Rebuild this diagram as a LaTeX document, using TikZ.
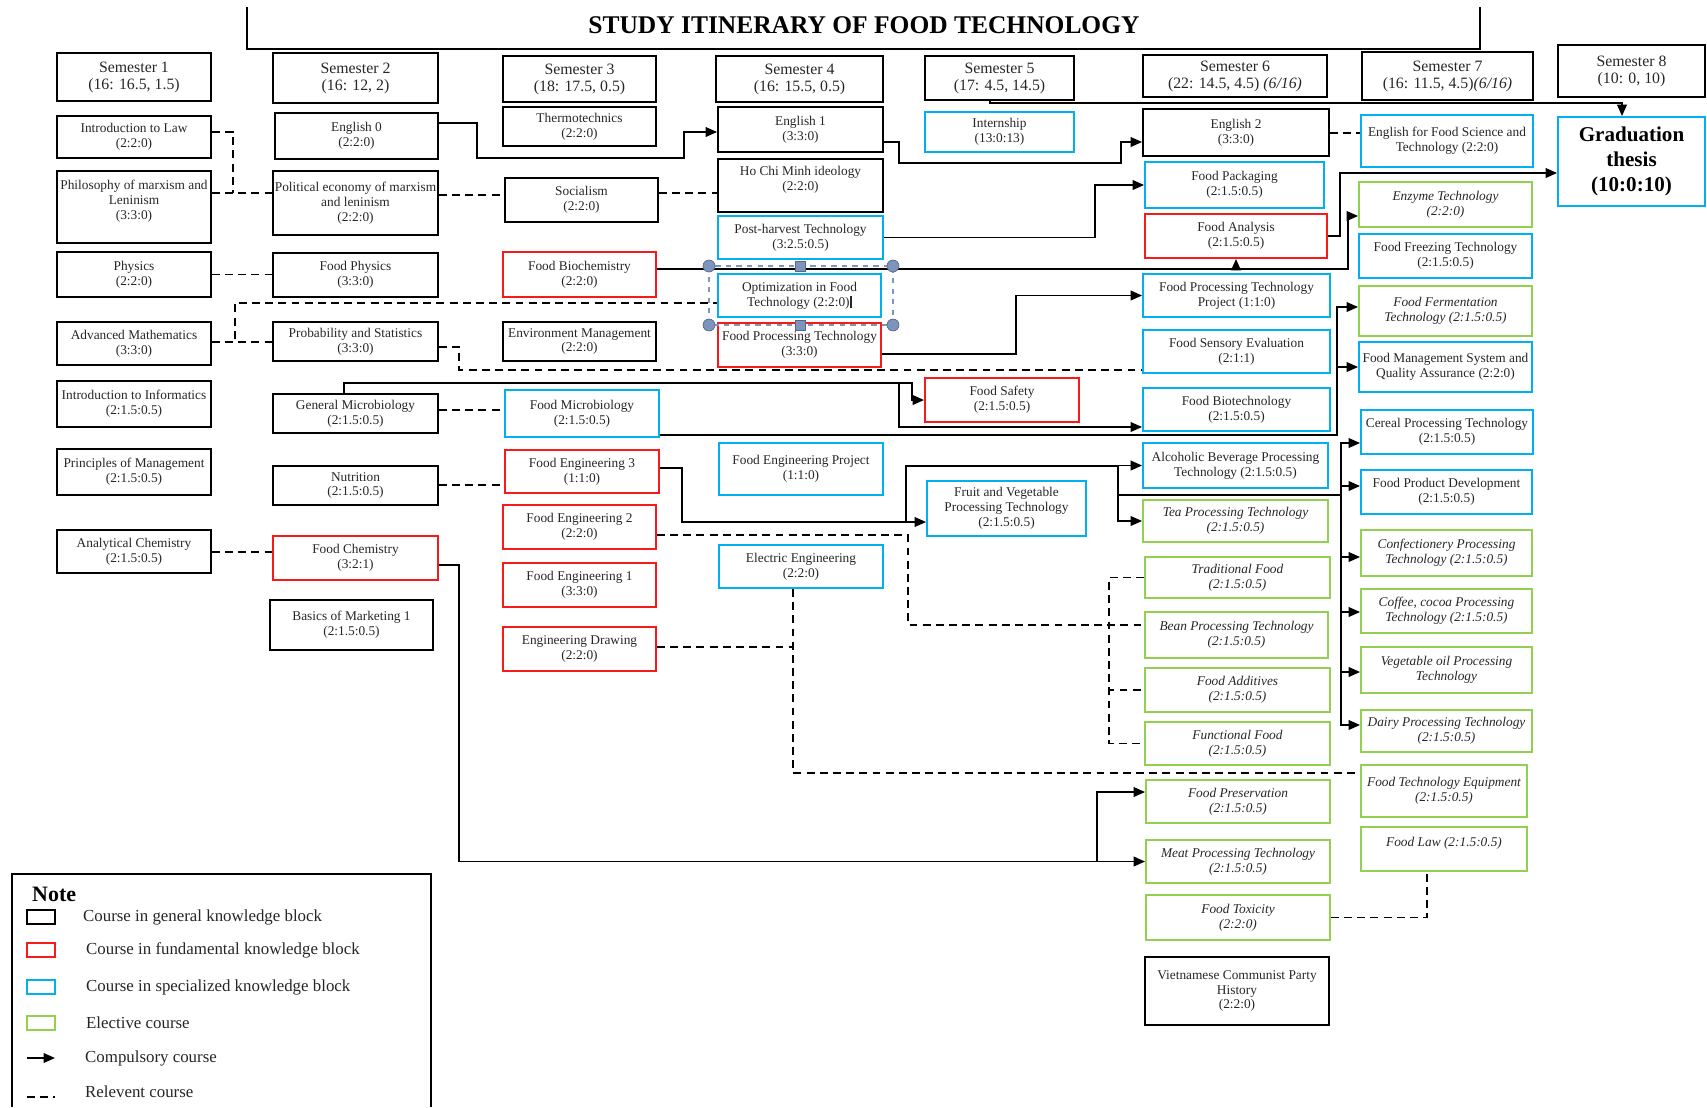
\documentclass[tikz,border=0pt]{standalone}
\usepackage{fontspec}
\setmainfont{Liberation Serif}
\usetikzlibrary{arrows.meta}
\usetikzlibrary{positioning}
\definecolor{fundred}{RGB}{250,25,25}
\definecolor{specblue}{RGB}{0,176,240}
\definecolor{electgreen}{RGB}{146,208,80}
\definecolor{handleblue}{RGB}{125,148,188}

\begin{document}
\begin{tikzpicture}[x=0.02cm, y=-0.02cm, node distance=0.48cm, % one unit = one pixel of the page
    >={Triangle[length=6.5pt,width=5.5pt]},
    course/.style={draw, rectangle, line width=1.1pt, inner xsep=1pt, inner ysep=1pt, align=center, text=black!85, font=\fontsize{7.6}{8.5}\selectfont},
    genbox/.style={course, draw=black},
    fundbox/.style={course, draw=fundred},
    specbox/.style={course, draw=specblue},
    electbox/.style={course, draw=electgreen, font=\fontsize{7.6}{8.5}\selectfont\itshape},
    sembox/.style={course, draw=black, font=\fontsize{9}{9.7}\selectfont},
    compulsory/.style={->, line width=1pt},
    relevant/.style={line width=1pt, dash pattern=on 4.5pt off 3pt},
    keytext/.style={font=\fontsize{9.6}{10}\selectfont, text=black!85}]

    \useasboundingbox (0,0) rectangle (1707,1107);

    % Title
    \node [font=\fontsize{14.5}{16}\selectfont\bfseries] (Title) at (864,25) {STUDY ITINERARY OF FOOD TECHNOLOGY};
    \draw [line width=1.1pt] (247,7) -- (247,49) -- (1480,49) -- (1480,7);

    % Semester 1
    \node [sembox, minimum width=3.08cm, minimum height=0.96cm] (Sem1) at (134,77) {Semester 1\\(16: 16.5, 1.5)};
    \node [genbox, minimum width=3.08cm, minimum height=0.84cm] (Law) at (134,137) {Introduction to Law\\(2:2:0)};
    \node [genbox, minimum width=3.08cm, minimum height=1.44cm] (Philosophy) at (134,207) {Philosophy of marxism and\\Leninism\\(3:3:0)\\ \mbox{}};
    \node [genbox, minimum width=3.08cm, minimum height=0.90cm] (Physics) at (134,274.5) {Physics\\(2:2:0)};
    \node [genbox, minimum width=3.08cm, minimum height=0.86cm] (AdvMath) at (134,343.5) {Advanced Mathematics\\(3:3:0)};
    \node [genbox, minimum width=3.08cm, minimum height=0.92cm] (Informatics) at (134,404) {Introduction to Informatics\\(2:1.5:0.5)};
    \node [genbox, minimum width=3.08cm, minimum height=0.92cm] (Management) at (134,472) {Principles of Management\\(2:1.5:0.5)};
    \node [genbox, minimum width=3.08cm, minimum height=0.86cm] (AnalChem) at (134,551.5) {Analytical Chemistry\\(2:1.5:0.5)};

    % Semester 2
    \node [sembox, minimum width=3.30cm, minimum height=1.00cm] (Sem2) at (355.5,78) {Semester 2\\(16: 12, 2)};
    \node [genbox, minimum width=3.26cm, minimum height=0.92cm] (EnglishZero) at (356.5,136) {English 0\\(2:2:0)};
    \node [genbox, minimum width=3.30cm, minimum height=1.28cm] (PolEcon) at (355.5,203) {Political economy of marxism\\and leninism\\(2:2:0)};
    \node [genbox, minimum width=3.30cm, minimum height=0.88cm] (FoodPhysics) at (355.5,275) {Food Physics\\(3:3:0)};
    \node [genbox, minimum width=3.30cm, minimum height=0.78cm] (ProbStat) at (355.5,341.5) {Probability and Statistics\\(3:3:0)};
    \node [genbox, minimum width=3.30cm, minimum height=0.78cm] (GenMicro) at (355.5,413.5) {General Microbiology\\(2:1.5:0.5)};
    \node [genbox, minimum width=3.30cm, minimum height=0.78cm] (Nutrition) at (355.5,485.5) {Nutrition\\(2:1.5:0.5)};
    \node [fundbox, minimum width=3.30cm, minimum height=0.88cm] (FoodChem) at (355.5,558) {Food Chemistry\\(3:2:1)};
    \node [genbox, minimum width=3.26cm, minimum height=1.00cm] (Marketing) at (351.5,625) {Basics of Marketing 1\\(2:1.5:0.5)};

    % Semester 3
    \node [sembox, minimum width=3.06cm, minimum height=0.92cm] (Sem3) at (579.5,79) {Semester 3\\(18: 17.5, 0.5)};
    \node [genbox, minimum width=3.06cm, minimum height=0.78cm] (Thermo) at (579.5,126.5) {Thermotechnics\\(2:2:0)};
    \node [genbox, minimum width=3.06cm, minimum height=0.88cm] (Socialism) at (581.5,200) {Socialism\\(2:2:0)};
    \node [fundbox, minimum width=3.06cm, minimum height=0.90cm] (FoodBiochem) at (579.5,274.5) {Food Biochemistry\\(2:2:0)};
    \node [genbox, minimum width=3.06cm, minimum height=0.78cm] (EnvMgmt) at (579.5,341.5) {Environment Management\\(2:2:0)};
    \node [specbox, minimum width=3.08cm, minimum height=0.94cm] (FoodMicro) at (582,413.5) {Food Microbiology\\(2:1.5:0.5)};
    \node [fundbox, minimum width=3.08cm, minimum height=0.86cm] (FoodEngThree) at (582,471.5) {Food Engineering 3\\(1:1:0)};
    \node [fundbox, minimum width=3.06cm, minimum height=0.88cm] (FoodEngTwo) at (579.5,527) {Food Engineering 2\\(2:2:0)};
    \node [fundbox, minimum width=3.06cm, minimum height=0.88cm] (FoodEngOne) at (579.5,585) {Food Engineering 1\\(3:3:0)};
    \node [fundbox, minimum width=3.06cm, minimum height=0.88cm] (EngDrawing) at (579.5,649) {Engineering Drawing\\(2:2:0)};

    % Semester 4
    \node [sembox, minimum width=3.34cm, minimum height=0.92cm] (Sem4) at (799.5,79) {Semester 4\\(16: 15.5, 0.5)};
    \node [genbox, minimum width=3.30cm, minimum height=0.90cm] (EnglishOne) at (800.5,129.5) {English 1\\(3:3:0)};
    \node [genbox, minimum width=3.30cm, minimum height=1.06cm] (HoChiMinh) at (800.5,185.5) {Ho Chi Minh ideology\\(2:2:0)\\ \mbox{}};
    \node [specbox, minimum width=3.30cm, minimum height=0.86cm] (PostHarvest) at (800.5,237.5) {Post-harvest Technology\\(3:2.5:0.5)};
    \node [specbox, minimum width=3.26cm, minimum height=0.86cm] (Optimization) at (799.5,295.5) {Optimization in Food\\Technology (2:2:0)\rule[-1pt]{1.3pt}{7pt}};
    \node [fundbox, minimum width=3.26cm, minimum height=0.88cm] (FoodProcTech) at (799.5,345) {Food Processing Technology\\(3:3:0)};
    \node [specbox, minimum width=3.28cm, minimum height=1.04cm] (FoodEngProject) at (801,469) {Food Engineering Project\\(1:1:0)};
    \node [specbox, minimum width=3.28cm, minimum height=0.86cm] (ElectricEng) at (801,566.5) {Electric Engineering\\(2:2:0)};

    % Semester 5
    \node [sembox, minimum width=2.98cm, minimum height=0.88cm] (Sem5) at (999.5,78) {Semester 5\\(17: 4.5, 14.5)};
    \node [specbox, minimum width=2.98cm, minimum height=0.80cm] (Internship) at (999.5,132) {Internship\\(13:0:13)};
    \node [fundbox, minimum width=3.08cm, minimum height=0.88cm] (FoodSafety) at (1002,400) {Food Safety\\(2:1.5:0.5)};
    \node [specbox, minimum width=3.18cm, minimum height=1.10cm] (FruitVeg) at (1006.5,508.5) {Fruit and Vegetable\\Processing Technology\\(2:1.5:0.5)};

    % Semester 6
    \node [sembox, minimum width=3.68cm, minimum height=0.84cm] (Sem6) at (1235,76) {Semester 6\\(22: 14.5, 4.5) \textit{(6/16)}};
    \node [genbox, minimum width=3.72cm, minimum height=0.94cm] (EnglishTwo) at (1236,132.5) {English 2\\(3:3:0)};
    \node [specbox, minimum width=3.58cm, minimum height=0.92cm] (FoodPackaging) at (1234.5,185) {Food Packaging\\(2:1.5:0.5)};
    \node [fundbox, minimum width=3.64cm, minimum height=0.88cm] (FoodAnalysis) at (1236,236) {Food Analysis\\(2:1.5:0.5)};
    \node [specbox, minimum width=3.74cm, minimum height=0.86cm] (FPTProject) at (1236.5,295.5) {Food Processing Technology\\Project (1:1:0)};
    \node [specbox, minimum width=3.74cm, minimum height=0.86cm] (FoodSensory) at (1236.5,351.5) {Food Sensory Evaluation\\(2:1:1)};
    \node [specbox, minimum width=3.74cm, minimum height=0.86cm] (FoodBiotech) at (1236.5,409.5) {Food Biotechnology\\(2:1.5:0.5)};
    \node [specbox, minimum width=3.70cm, minimum height=0.90cm] (Alcoholic) at (1235.5,465.5) {Alcoholic Beverage Processing\\Technology (2:1.5:0.5)};
    \node [electbox, minimum width=3.70cm, minimum height=0.84cm] (Tea) at (1235.5,521) {Tea Processing Technology\\(2:1.5:0.5)};
    \node [electbox, minimum width=3.70cm, minimum height=0.82cm] (Traditional) at (1237.5,577.5) {Traditional Food\\(2:1.5:0.5)};
    \node [electbox, minimum width=3.66cm, minimum height=0.92cm] (Bean) at (1236.5,635) {Bean Processing Technology\\(2:1.5:0.5)};
    \node [electbox, minimum width=3.70cm, minimum height=0.88cm] (Additives) at (1237.5,690) {Food Additives\\(2:1.5:0.5)};
    \node [electbox, minimum width=3.70cm, minimum height=0.86cm] (Functional) at (1237.5,743.5) {Functional Food\\(2:1.5:0.5)};
    \node [electbox, minimum width=3.68cm, minimum height=0.86cm] (Preservation) at (1238,801.5) {Food Preservation\\(2:1.5:0.5)};
    \node [electbox, minimum width=3.68cm, minimum height=0.86cm] (Meat) at (1238,861.5) {Meat Processing Technology\\(2:1.5:0.5)};
    \node [electbox, minimum width=3.68cm, minimum height=0.90cm] (Toxicity) at (1238,917.5) {Food Toxicity\\(2:2:0)};
    \node [genbox, minimum width=3.68cm, minimum height=1.36cm] (VNHistory) at (1237,991) {Vietnamese Communist Party\\History\\(2:2:0)};

    % Semester 7
    \node [sembox, minimum width=3.42cm, minimum height=0.96cm] (Sem7) at (1447.5,76) {Semester 7\\(16: 11.5, 4.5)\textit{(6/16)}};
    \node [specbox, minimum width=3.44cm, minimum height=1.04cm] (EnglishFST) at (1447,141) {English for Food Science and\\Technology (2:2:0)};
    \node [electbox, minimum width=3.46cm, minimum height=0.90cm] (Enzyme) at (1445.5,204.5) {Enzyme Technology\\(2:2:0)};
    \node [specbox, minimum width=3.46cm, minimum height=0.88cm] (Freezing) at (1445.5,256) {Food Freezing Technology\\(2:1.5:0.5)};
    \node [electbox, minimum width=3.46cm, minimum height=1.00cm] (Fermentation) at (1445.5,311) {Food Fermentation\\Technology (2:1.5:0.5)};
    \node [specbox, minimum width=3.46cm, minimum height=1.00cm] (FoodMgmt) at (1445.5,367) {Food Management System and\\Quality Assurance (2:2:0)};
    \node [specbox, minimum width=3.44cm, minimum height=0.88cm] (Cereal) at (1447,432) {Cereal Processing Technology\\(2:1.5:0.5)};
    \node [specbox, minimum width=3.42cm, minimum height=0.88cm] (ProductDev) at (1446.5,492) {Food Product Development\\(2:1.5:0.5)};
    \node [electbox, minimum width=3.42cm, minimum height=0.92cm] (Confectionery) at (1446.5,553) {Confectionery Processing\\Technology (2:1.5:0.5)};
    \node [electbox, minimum width=3.42cm, minimum height=0.88cm] (Coffee) at (1446.5,611) {Coffee, cocoa Processing\\Technology (2:1.5:0.5)};
    \node [electbox, minimum width=3.42cm, minimum height=0.92cm] (VegOil) at (1446.5,670) {Vegetable oil Processing\\Technology};
    \node [electbox, minimum width=3.42cm, minimum height=0.84cm] (Dairy) at (1446.5,731) {Dairy Processing Technology\\(2:1.5:0.5)};
    \node [electbox, minimum width=3.32cm, minimum height=1.04cm] (Equipment) at (1444,791) {Food Technology Equipment\\(2:1.5:0.5)};
    \node [electbox, minimum width=3.32cm, minimum height=0.88cm] (FoodLaw) at (1444,849) {Food Law (2:1.5:0.5)\\ \mbox{}};

    % Semester 8
    \node [sembox, minimum width=2.94cm, minimum height=1.04cm] (Sem8) at (1631.5,71) {Semester 8\\(10: 0, 10)};
    \node [specbox, minimum width=2.94cm, minimum height=1.78cm, text=black, font=\fontsize{12}{14.2}\selectfont\bfseries] (Graduation) at (1631.5,161.5) {Graduation\\thesis\\(10:0:10)};

    % Compulsory courses (arrows)
    \draw [compulsory] (EnglishZero.east |- 0,123) -- (477,123) -- (477,158) -- (684,158) |- (EnglishOne.west |- 0,132);
    \draw [compulsory] (EnglishOne.east |- 0,142) -- (899,142) -- (899,163) -- (1121,163) |- (EnglishTwo.west |- 0,142);
    \draw [compulsory] (Sem5.south -| 990,0) -- (990,103) -| (Graduation.north -| 1622,0); % internship credits to thesis
    \draw [compulsory] (PostHarvest.east) -- (1095,237.5) |- (FoodPackaging.west);
    \draw [compulsory] (FoodProcTech.east |- 0,354) -- (1016,354) |- (FPTProject.west);
    \draw [compulsory] (FoodBiochem.east |- 0,269) -- (1348,269) |- (Enzyme.west |- 0,216);
    \draw [compulsory] (FoodBiochem.east |- 0,269) -- (FoodAnalysis.south |- 0,269) -- (FoodAnalysis.south);
    \draw [compulsory] (FoodAnalysis.east) -- (1340,236) |- (Graduation.west |- 0,173);
    \draw [compulsory] (FoodMicro.east |- 0,435) -- (1337,435) |- (Fermentation.west |- 0,307);
    \draw [compulsory] (FoodMicro.east |- 0,435) -- (1337,435) |- (FoodMgmt.west);
    \draw [compulsory] (GenMicro.north -| 344,0) -- (344,383) -- (912,383) |- (FoodSafety.west);
    \draw [compulsory] (GenMicro.north -| 344,0) -- (344,383) -- (899,383) |- (FoodBiotech.west |- 0,427);
    \draw [compulsory] (FoodEngThree.east |- 0,468) -- (682,468) |- (FruitVeg.west |- 0,522);
    \draw [compulsory] (FoodEngThree.east |- 0,468) -- (682,468) -- (682,522) -- (906,522) |- (Alcoholic.west);
    \draw [compulsory] (FoodEngThree.east |- 0,468) -- (682,468) -- (682,522) -- (906,522) -- (906,466) -- (1118,466) |- (Tea.west);
    \coordinate (EngJoint) at (1118,495);
    \coordinate (ProcBus) at (1341,495);
    \draw [line width=1pt] (EngJoint) -- (ProcBus);
    \draw [compulsory] (ProcBus) |- (Cereal.west |- 0,443);
    \draw [compulsory] (ProcBus) |- (ProductDev.west |- 0,486);
    \draw [compulsory] (ProcBus) |- (Confectionery.west |- 0,557);
    \draw [compulsory] (ProcBus) |- (Coffee.west |- 0,612);
    \draw [compulsory] (ProcBus) |- (VegOil.west |- 0,672);
    \draw [compulsory] (ProcBus) |- (Dairy.west |- 0,725);
    \draw [compulsory] (FoodChem.east |- 0,565) -- (459,565) |- (Meat.west);
    \draw [compulsory] (FoodChem.east |- 0,565) -- (459,565) -- (459,861.5) -- (1097,861.5) |- (Preservation.west |- 0,792);

    % Relevant courses (dashed)
    \coordinate (PhiloJoint) at (233,193);
    \coordinate (ElecDrop) at (793,647);
    \draw [relevant] (Philosophy.east |- 0,193) -- (PolEcon.west |- 0,193);
    \draw [relevant] (Law.east |- 0,132) -| (PhiloJoint);
    \draw [relevant] (PolEcon.east |- 0,195) -- (Socialism.west |- 0,195);
    \draw [relevant] (Socialism.east |- 0,193) -- (HoChiMinh.west |- 0,193);
    \draw [relevant] (Physics.east) -- (FoodPhysics.west |- Physics.east);
    \draw [relevant] (AdvMath.east |- 0,342) -- (ProbStat.west |- 0,342);
    \draw [relevant] (AdvMath.east |- 0,342) -- (235,342) -- (235,303) -- (Optimization.west |- 0,303);
    \draw [relevant] (ProbStat.east |- 0,347) -- (459,347) -- (459,370) -- (FoodSensory.west |- 0,370);
    \draw [relevant] (GenMicro.east |- 0,410) -- (FoodMicro.west |- 0,410);
    \draw [relevant] (Nutrition.east |- 0,485) -- (FoodEngThree.west |- 0,485);
    \draw [relevant] (AnalChem.east |- 0,552) -- (FoodChem.west |- 0,552);
    \draw [relevant] (FoodEngTwo.east |- 0,535) -- (908,535) |- (Bean.west |- 0,625);
    \draw [relevant] (Traditional.west) -- (1109,577.5) |- (Functional.west);
    \draw [relevant] (Traditional.west) -- (1109,577.5) |- (Additives.west);
    \draw [relevant] (EngDrawing.east |- ElecDrop) -- (ElecDrop);
    \draw [relevant] (ElectricEng.south -| 793,0) |- (Equipment.west |- 0,773);
    \draw [relevant] (EnglishTwo.east |- 0,133) -- (EnglishFST.west |- 0,133);
    \draw [relevant] (Toxicity.east) -| (FoodLaw.south -| 1427,0);

    % Selection handles round the optimization box
    \draw [handleblue, line width=0.6pt, dashed] (709,266) rectangle (893,325);
    \filldraw [fill=handleblue, draw=handleblue!70!black, line width=0.4pt] (709,266) circle (3.4pt) (893,266) circle (3.4pt) (709,325) circle (3.4pt) (893,325) circle (3.4pt);
    \filldraw [fill=handleblue, draw=handleblue!70!black, line width=0.4pt] (795,261) rectangle (805,271) (795,320) rectangle (805,330);

    % Legend
    \draw [line width=1.1pt] (12,1107) -- (12,874) -- (431,874) -- (431,1107);
    \node [anchor=west, font=\fontsize{12.5}{13}\selectfont\bfseries] (NoteTitle) at (26,894) {Note};
    \node [genbox, minimum width=0.56cm, minimum height=0.28cm] (KeyGen) at (41,917) {};
    \node [fundbox, minimum width=0.56cm, minimum height=0.28cm] (KeyFund) at (41,950) {};
    \node [specbox, minimum width=0.56cm, minimum height=0.28cm] (KeySpec) at (41,987) {};
    \node [electbox, minimum width=0.56cm, minimum height=0.28cm] (KeyElect) at (41,1023) {};
    \node [keytext, right=0.42cm of KeyGen] (KeyGenText) {Course in general knowledge block};
    \node [keytext, right=0.48cm of KeyFund] (KeyFundText) {Course in fundamental knowledge block};
    \node [keytext, right=0.48cm of KeySpec] (KeySpecText) {Course in specialized knowledge block};
    \node [keytext, right=0.48cm of KeyElect] (KeyElectText) {Elective course};
    \coordinate (KeyArrowStart) at (27,1058);
    \coordinate (KeyArrowEnd) at (55,1058);
    \coordinate (KeyDashStart) at (27,1097);
    \coordinate (KeyDashEnd) at (55,1097);
    \draw [compulsory] (KeyArrowStart) -- (KeyArrowEnd);
    \draw [relevant] (KeyDashStart) -- (KeyDashEnd);
    \node [keytext, right=0.48cm of KeyArrowEnd] (KeyArrowText) {Compulsory course};
    \node [keytext, anchor=west] (KeyDashText) at (79,1092) {Relevent course};

\end{tikzpicture}
\end{document}
